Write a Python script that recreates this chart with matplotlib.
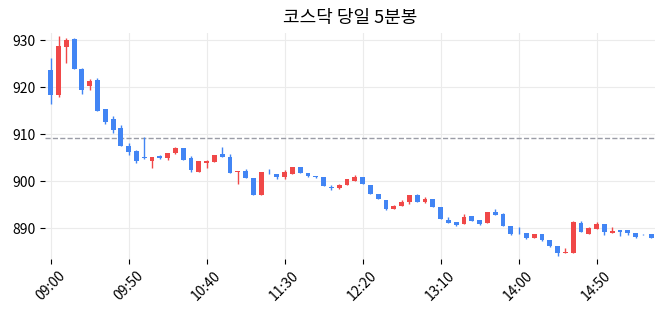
import matplotlib
matplotlib.use("Agg")
import matplotlib.pyplot as plt
import numpy as np

plt.rcParams['font.family'] = ['Noto Sans CJK KR', 'DejaVu Sans']

# 5-minute candles (index 0 = 09:00).
opens = [923.7, 918.4, 928.6, 930.2, 923.9, 920.3, 921.6, 915.4, 913.3, 911.3,
         907.5, 906.4, 905.0, 904.2, 905.4, 905.0, 906.0, 907.0, 905.0, 902.0,
         903.9, 904.1, 905.8, 905.2, 901.9, 902.2, 900.7, 897.0, 902.0, 901.6,
         901.0, 901.6, 903.0, 901.7, 901.1, 900.9, 898.8, 898.5, 899.1, 900.1,
         901.0, 899.1, 897.2, 896.0, 894.0, 894.7, 895.5, 897.0, 895.5, 896.2,
         894.5, 891.8, 891.3, 890.8, 892.5, 891.8, 891.0, 893.4, 893.0, 890.4,
         889.0, 889.0, 887.8, 888.8, 887.5, 886.2, 884.6, 884.8, 891.0, 888.8,
         889.9, 890.8, 888.9, 889.6, 889.6, 888.9, 888.8, 888.8]
highs = [926.2, 931.0, 930.4, 930.5, 924.1, 921.7, 921.9, 915.4, 913.8, 912.0,
         908.2, 906.7, 909.4, 905.1, 905.6, 906.0, 907.2, 907.0, 905.3, 904.2,
         904.5, 905.5, 907.2, 905.7, 902.1, 902.5, 900.7, 902.0, 902.5, 901.6,
         902.3, 903.0, 903.0, 901.7, 901.1, 900.9, 899.1, 899.3, 900.4, 901.3,
         901.0, 899.1, 897.2, 896.0, 894.9, 896.0, 897.1, 897.2, 896.7, 896.2,
         894.5, 892.3, 891.3, 893.0, 892.5, 891.8, 893.4, 894.0, 893.2, 890.4,
         890.2, 889.0, 888.8, 888.8, 887.5, 886.2, 885.7, 891.5, 891.5, 890.2,
         891.4, 890.8, 890.2, 889.6, 889.6, 889.0, 888.8, 888.8]
lows = [916.4, 918.0, 925.1, 923.9, 918.5, 919.4, 915.0, 912.1, 910.2, 907.6,
        905.6, 903.8, 904.8, 902.8, 904.7, 904.6, 905.9, 904.6, 902.0, 902.0,
        902.8, 904.0, 905.2, 901.8, 899.4, 900.7, 897.0, 897.0, 901.5, 900.4,
        900.4, 901.6, 901.8, 900.85, 900.6, 898.9, 898.1, 898.4, 899.1, 900.1,
        899.4, 897.2, 896.2, 893.8, 894.0, 894.7, 895.1, 895.5, 895.3, 894.5,
        891.9, 891.1, 890.4, 890.8, 891.6, 890.6, 891.0, 892.9, 890.4, 888.5,
        888.8, 887.6, 887.8, 887.2, 885.95, 884.1, 884.6, 884.8, 889.1, 888.7,
        889.9, 888.6, 888.9, 888.4, 888.6, 887.9, 888.6, 887.9]
closes = [918.4, 928.8, 930.1, 924.0, 919.5, 921.3, 915.0, 912.7, 911.0, 907.6,
          906.3, 904.4, 904.9, 905.1, 905.0, 906.0, 907.0, 904.6, 902.3, 904.2,
          904.3, 905.5, 905.2, 901.8, 902.1, 900.7, 897.0, 902.0, 901.9, 901.0,
          902.0, 903.0, 901.8, 901.1, 900.8, 898.9, 898.5, 899.2, 900.4, 901.0,
          899.4, 897.2, 896.2, 894.0, 894.7, 895.5, 897.0, 895.5, 896.2, 894.5,
          891.9, 891.2, 890.6, 892.4, 891.6, 890.8, 893.4, 892.9, 890.4, 888.8,
          888.9, 887.8, 888.8, 887.4, 886.3, 884.7, 884.9, 891.3, 889.1, 890.0,
          890.8, 889.1, 889.4, 889.2, 888.9, 888.2, 888.7, 887.9]
prev_close = 909.3

tick_pos = [0, 10, 20, 30, 40, 50, 60, 70]
tick_labels = ["09:00", "09:50", "10:40", "11:30", "12:20", "13:10", "14:00", "14:50"]

up_color = "#f04848"
down_color = "#4285f4"

fig = plt.figure(figsize=(6.63, 3.16), dpi=100)
ax = fig.add_axes([0.0686, 0.180, 0.9194, 0.716])

o = np.array(opens)
h = np.array(highs)
l = np.array(lows)
c = np.array(closes)
x = np.arange(len(o))
colors = [up_color if cc > oo else down_color for oo, cc in zip(o, c)]

# Wicks then bodies.
ax.vlines(x, l, h, colors=colors, linewidth=1.0, zorder=2)
body = np.maximum(np.abs(c - o), 0.15)
ax.bar(x, body, bottom=np.minimum(o, c), width=0.62, color=colors, zorder=3)

# Previous close.
ax.axhline(prev_close, color="#9a9ca6", linestyle="--", linewidth=1.0, zorder=1)

ax.set_title("코스닥 당일 5분봉", fontsize=13, pad=7)
ax.set_xticks(tick_pos)
ax.set_xticklabels(tick_labels, rotation=45)
ax.set_yticks([890, 900, 910, 920, 930])
ax.tick_params(labelsize=10, length=3.5, width=0.8)
ax.set_xlim(-0.67, 77.5)
ax.set_ylim(883.4, 931.6)

ax.grid(True, color="#ebebeb", linewidth=0.8, zorder=0)
ax.set_axisbelow(True)
for s in ax.spines.values():
    s.set_visible(False)

fig.savefig("out.png", dpi=100)
